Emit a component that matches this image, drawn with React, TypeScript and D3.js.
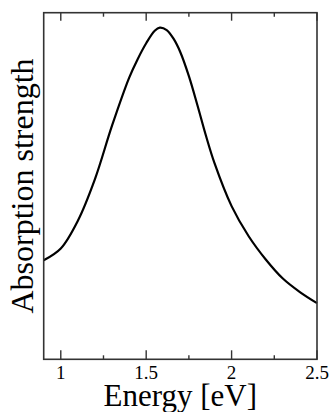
import React from "react";
import * as d3 from "d3";

const energies = [0.9, 1.0, 1.1, 1.2, 1.3, 1.4, 1.45, 1.5, 1.55, 1.58, 1.62, 1.66, 1.7, 1.75, 1.8, 1.85, 1.9, 2.0, 2.1, 2.2, 2.3, 2.4, 2.5];
const strength = [0.286, 0.32, 0.4, 0.52, 0.674, 0.812, 0.866, 0.912, 0.948, 0.957, 0.95, 0.925, 0.886, 0.817, 0.733, 0.645, 0.566, 0.442, 0.355, 0.288, 0.233, 0.194, 0.162];
const majorTicks = [1, 1.5, 2, 2.5];
const majorLabels = ["1", "1.5", "2", "2.5"];
const minorTicks = [1.25, 1.75, 2.25];
const xLabel = "Energy [eV]";
const yLabel = "Absorption strength";

export default function App() {
  const W = 334, H = 412;
  const left = 43.7, right = 317, top = 12.7, bottom = 359.3;
  const x = d3.scaleLinear().domain([0.9, 2.5]).range([left, right]);
  const y = d3.scaleLinear().domain([0, 1]).range([bottom, top]);
  const pts = energies.map((e, i) => [e, strength[i]] as [number, number]);
  const line = d3.line<[number, number]>().x(d => x(d[0])).y(d => y(d[1])).curve(d3.curveCatmullRom.alpha(0.5));
  const font = "'Liberation Serif', 'Times New Roman', serif";
  const axisColor = "#333";
  return (
    <svg width={W} height={H} style={{ position: "absolute", left: 0, top: 0, background: "#fff" }}>
      <rect x={0} y={0} width={W} height={H} fill="#fff" />
      <path d={line(pts) || ""} fill="none" stroke="#000" strokeWidth={2.2} />
      <rect x={left} y={top} width={right - left} height={bottom - top} fill="none" stroke={axisColor} strokeWidth={1.6} />
      {majorTicks.map(t => (
        <g key={"M" + t}>
          <line x1={x(t)} x2={x(t)} y1={top} y2={top + 8} stroke={axisColor} strokeWidth={1.4} />
          <line x1={x(t)} x2={x(t)} y1={bottom} y2={bottom - 9} stroke={axisColor} strokeWidth={1.4} />
        </g>
      ))}
      {minorTicks.map(t => (
        <g key={"m" + t}>
          <line x1={x(t)} x2={x(t)} y1={top} y2={top + 4} stroke={axisColor} strokeWidth={1.4} />
          <line x1={x(t)} x2={x(t)} y1={bottom} y2={bottom - 4} stroke={axisColor} strokeWidth={1.4} />
        </g>
      ))}
      {majorTicks.map((t, i) => (
        <text key={"l" + t} x={x(t)} y={379} textAnchor="middle" fontFamily={font} fontSize={19} fill="#000">
          {majorLabels[i]}
        </text>
      ))}
      <text x={(left + right) / 2} y={406} textAnchor="middle" fontFamily={font} fontSize={31} fill="#000">
        {xLabel}
      </text>
      <text transform={`translate(33,${(top + bottom) / 2}) rotate(-90)`} textAnchor="middle" fontFamily={font} fontSize={32} fill="#000">
        {yLabel}
      </text>
    </svg>
  );
}
